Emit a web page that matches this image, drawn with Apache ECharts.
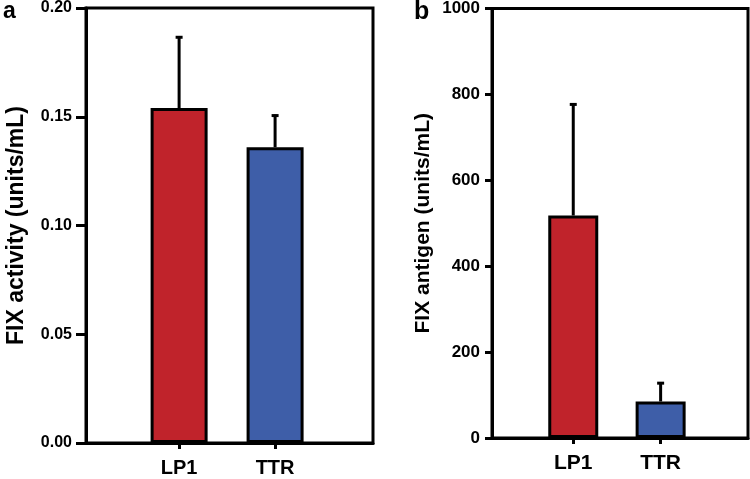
<!DOCTYPE html>
<html>
<head>
<meta charset="utf-8">
<script src="https://cdn.jsdelivr.net/npm/echarts@6/dist/echarts.min.js"></script>
<style>html,body{margin:0;padding:0;background:#fff}#c{width:750px;height:479px}</style>
</head>
<body>
<div id="c"></div>
<script>
const categories = ['LP1', 'TTR'];
const activityMean = [0.154, 0.136];
const activityErr = [0.033, 0.015];
const antigenMean = [518, 85];
const antigenErr = [261, 45];
const barColors = ['#c0232b', '#3e5ea8'];

const FONT = '"Liberation Sans", Arial, sans-serif';
const chart = echarts.init(document.getElementById('c'), null, {renderer: 'canvas'});

function barData(vals) {
  return vals.map((v, i) => ({value: [i + 1, v], itemStyle: {color: barColors[i]}}));
}
function errData(vals, errs) {
  return vals.map((v, i) => [i + 1, v, v + errs[i]]);
}
function errRender(params, api) {
  const x = api.value(0);
  const p0 = api.coord([x, api.value(1)]);
  const p1 = api.coord([x, api.value(2)]);
  const st = {stroke: '#000', lineWidth: 3};
  return {
    type: 'group',
    children: [
      {type: 'line', shape: {x1: p0[0], y1: p0[1], x2: p1[0], y2: p1[1]}, style: st},
      {type: 'line', shape: {x1: p1[0] - 3.5, y1: p1[1] + 1, x2: p1[0] + 3.5, y2: p1[1] + 1}, style: st}
    ]
  };
}
function xAxisCfg(gridIndex, min, max, fs, margin) {
  return {
    type: 'value', gridIndex, min, max,
    splitLine: {show: false},
    axisLine: {show: true, onZero: false, lineStyle: {color: '#000', width: 3}},
    axisTick: {show: true, length: 6, customValues: [1, 2], lineStyle: {color: '#000', width: 3}},
    axisLabel: {
      customValues: [1, 2], margin,
      formatter: v => categories[Math.round(v) - 1] || '',
      color: '#000', fontWeight: 'bold', fontSize: fs, fontFamily: FONT
    }
  };
}

const option = {
  animation: false,
  backgroundColor: '#fff',
  grid: [
    {left: 86, top: 8, width: 287, height: 435, show: true, borderColor: '#000', borderWidth: 3, backgroundColor: 'transparent'},
    {left: 492, top: 8, width: 256, height: 430, show: true, borderColor: '#000', borderWidth: 3, backgroundColor: 'transparent'}
  ],
  graphic: [
    {type: 'text', left: 3, top: 0, style: {text: 'a', font: 'bold 23px ' + FONT, fill: '#000'}},
    {type: 'text', left: 414, top: 0, style: {text: 'b', font: 'bold 25px ' + FONT, fill: '#000'}}
  ],
  xAxis: [
    xAxisCfg(0, 0.03, 3.02, 20, 15),
    xAxisCfg(1, 0.07, 3.0, 21, 15)
  ],
  yAxis: [
    {
      type: 'value', gridIndex: 0, min: 0, max: 0.2, interval: 0.05,
      name: 'FIX activity (units/mL)', nameLocation: 'middle', nameGap: 58,
      nameTextStyle: {color: '#000', fontWeight: 'bold', fontSize: 23, fontFamily: FONT},
      splitLine: {show: false},
      axisLine: {show: true, lineStyle: {color: '#000', width: 3}},
      axisTick: {show: true, length: 10, lineStyle: {color: '#000', width: 3}},
      axisLabel: {margin: 14, formatter: v => v.toFixed(2), color: '#000', fontWeight: 'bold', fontSize: 16, fontFamily: FONT}
    },
    {
      type: 'value', gridIndex: 1, min: 0, max: 1000, interval: 200,
      name: 'FIX antigen (units/mL)', nameLocation: 'middle', nameGap: 58,
      nameTextStyle: {color: '#000', fontWeight: 'bold', fontSize: 21, fontFamily: FONT},
      splitLine: {show: false},
      axisLine: {show: true, lineStyle: {color: '#000', width: 3}},
      axisTick: {show: true, length: 7, lineStyle: {color: '#000', width: 3}},
      axisLabel: {margin: 12, formatter: v => String(v), color: '#000', fontWeight: 'bold', fontSize: 17, fontFamily: FONT}
    }
  ],
  series: [
    {
      type: 'bar', xAxisIndex: 0, yAxisIndex: 0, barWidth: 57,
      itemStyle: {borderColor: '#000', borderWidth: 3},
      data: barData(activityMean), z: 2
    },
    {
      type: 'custom', xAxisIndex: 0, yAxisIndex: 0, renderItem: errRender,
      data: errData(activityMean, activityErr), z: 3
    },
    {
      type: 'bar', xAxisIndex: 1, yAxisIndex: 1, barWidth: 50,
      itemStyle: {borderColor: '#000', borderWidth: 3},
      data: barData(antigenMean), z: 2
    },
    {
      type: 'custom', xAxisIndex: 1, yAxisIndex: 1, renderItem: errRender,
      data: errData(antigenMean, antigenErr), z: 3
    }
  ]
};
chart.setOption(option);
</script>
</body>
</html>
